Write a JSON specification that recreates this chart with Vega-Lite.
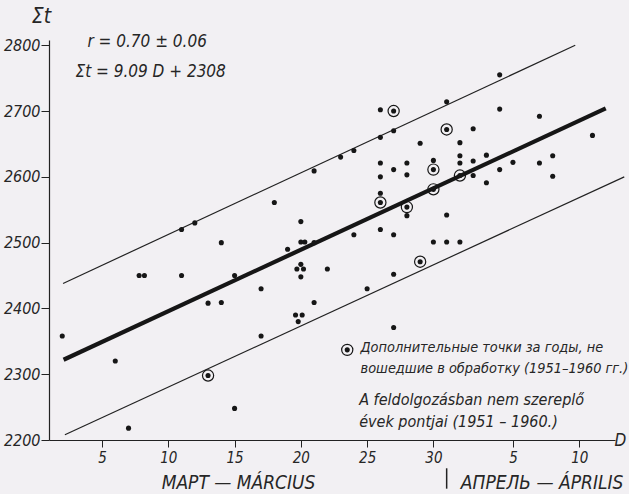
{
  "$schema": "https://vega.github.io/schema/vega-lite/v6.json",
  "width": 566,
  "height": 400,
  "autosize": "none",
  "padding": {"left": 49, "top": 40, "right": 14, "bottom": 54},
  "background": "#f2f0f3",
  "config": {
    "view": {"stroke": null},
    "font": "DejaVu Sans Condensed",
    "text": {"font": "DejaVu Sans Condensed", "fontStyle": "italic", "color": "#262626"}
  },
  "datasets": {
    "points": [
      {"D": 2, "sum_t": 2358}, {"D": 6, "sum_t": 2320}, {"D": 7, "sum_t": 2218},
      {"D": 7.8, "sum_t": 2450}, {"D": 8.2, "sum_t": 2450}, {"D": 11, "sum_t": 2450},
      {"D": 11, "sum_t": 2520}, {"D": 12, "sum_t": 2530}, {"D": 13, "sum_t": 2408},
      {"D": 14, "sum_t": 2500}, {"D": 14, "sum_t": 2409}, {"D": 15, "sum_t": 2450},
      {"D": 15, "sum_t": 2248}, {"D": 17, "sum_t": 2430}, {"D": 17, "sum_t": 2358},
      {"D": 18, "sum_t": 2561}, {"D": 19, "sum_t": 2490}, {"D": 20, "sum_t": 2532},
      {"D": 20, "sum_t": 2501}, {"D": 20.3, "sum_t": 2501}, {"D": 20, "sum_t": 2467},
      {"D": 19.7, "sum_t": 2460}, {"D": 20.2, "sum_t": 2460}, {"D": 20, "sum_t": 2448},
      {"D": 19.6, "sum_t": 2390}, {"D": 20.1, "sum_t": 2390}, {"D": 19.8, "sum_t": 2380},
      {"D": 21, "sum_t": 2609}, {"D": 21, "sum_t": 2500}, {"D": 21, "sum_t": 2409},
      {"D": 22, "sum_t": 2460}, {"D": 23, "sum_t": 2630}, {"D": 24, "sum_t": 2640},
      {"D": 24, "sum_t": 2512}, {"D": 25, "sum_t": 2430}, {"D": 26, "sum_t": 2702},
      {"D": 26, "sum_t": 2660}, {"D": 26, "sum_t": 2621}, {"D": 26, "sum_t": 2600},
      {"D": 26, "sum_t": 2575}, {"D": 26, "sum_t": 2520}, {"D": 27, "sum_t": 2670},
      {"D": 27, "sum_t": 2611}, {"D": 27, "sum_t": 2512}, {"D": 27, "sum_t": 2452},
      {"D": 27, "sum_t": 2371}, {"D": 28, "sum_t": 2621}, {"D": 28, "sum_t": 2603},
      {"D": 28, "sum_t": 2541}, {"D": 29, "sum_t": 2651}, {"D": 30, "sum_t": 2625},
      {"D": 30, "sum_t": 2501}, {"D": 31, "sum_t": 2714}, {"D": 31, "sum_t": 2542},
      {"D": 31, "sum_t": 2501}, {"D": 32, "sum_t": 2652}, {"D": 32, "sum_t": 2632},
      {"D": 32, "sum_t": 2621}, {"D": 32, "sum_t": 2501}, {"D": 33, "sum_t": 2673},
      {"D": 33, "sum_t": 2624}, {"D": 33, "sum_t": 2602}, {"D": 34, "sum_t": 2633},
      {"D": 34, "sum_t": 2591}, {"D": 35, "sum_t": 2755}, {"D": 35, "sum_t": 2703},
      {"D": 35, "sum_t": 2611}, {"D": 36, "sum_t": 2622}, {"D": 38, "sum_t": 2692},
      {"D": 38, "sum_t": 2621}, {"D": 39, "sum_t": 2632}, {"D": 39, "sum_t": 2601},
      {"D": 42, "sum_t": 2663},
      {"D": 13, "sum_t": 2298, "extra": true}, {"D": 26, "sum_t": 2561, "extra": true},
      {"D": 27, "sum_t": 2700, "extra": true}, {"D": 28, "sum_t": 2554, "extra": true},
      {"D": 29, "sum_t": 2471, "extra": true}, {"D": 30, "sum_t": 2611, "extra": true},
      {"D": 30, "sum_t": 2581, "extra": true}, {"D": 31, "sum_t": 2672, "extra": true},
      {"D": 32, "sum_t": 2602, "extra": true},
      {"D": 23.5, "sum_t": 2337, "extra": true, "legend": true}
    ],
    "lines": [
      {"line": "regression", "D": 2.1, "sum_t": 2322},
      {"line": "regression", "D": 43, "sum_t": 2704},
      {"line": "upper", "D": 2.06, "sum_t": 2438},
      {"line": "upper", "D": 40.7, "sum_t": 2800},
      {"line": "lower", "D": 2.2, "sum_t": 2208},
      {"line": "lower", "D": 44.4, "sum_t": 2600}
    ],
    "notes": [
      {"kind": "formula", "D": 3.9, "sum_t": 2805, "text": "r = 0.70 ± 0.06"},
      {"kind": "formula", "D": 3.0, "sum_t": 2759, "text": "Σt = 9.09 D + 2308"},
      {"kind": "legend", "D": 24.5, "sum_t": 2340, "text": "Дополнительные точки за годы, не"},
      {"kind": "legend", "D": 24.5, "sum_t": 2308, "text": "вошедшие в обработку (1951–1960 гг.)"},
      {"kind": "legend2", "D": 24.4, "sum_t": 2261, "text": "A feldolgozásban nem szereplő"},
      {"kind": "legend2", "D": 24.4, "sum_t": 2228, "text": "évek pontjai (1951 – 1960.)"},
      {"kind": "month", "D": 15.3, "sum_t": 2135, "text": "МАРТ — MÁRCIUS"},
      {"kind": "month", "D": 38.2, "sum_t": 2135, "text": "АПРЕЛЬ — ÁPRILIS"}
    ],
    "separator": [
      {"D": 31.0, "sum_t": 2157, "sum_t2": 2126}
    ]
  },
  "encoding": {
    "x": {
      "field": "D", "type": "quantitative",
      "scale": {"domain": [1, 43.7], "nice": false, "zero": false},
      "axis": {
        "values": [5, 10, 15, 20, 25, 30, 36, 41],
        "labelExpr": "datum.value > 31 ? datum.value - 31 : datum.value",
        "grid": false,
        "domainColor": "#222", "domainWidth": 1.2,
        "tickColor": "#222", "tickWidth": 1, "tickSize": 7,
        "labelFont": "DejaVu Sans Condensed", "labelFontStyle": "italic",
        "labelFontSize": 15, "labelColor": "#262626", "labelPadding": 3,
        "labelFlush": false,
        "title": "D", "titleFont": "DejaVu Sans Condensed", "titleFontStyle": "italic",
        "titleFontWeight": "normal", "titleFontSize": 17, "titleColor": "#262626",
        "titleX": 565, "titleY": 0, "titleAlign": "left", "titleBaseline": "middle"
      }
    },
    "y": {
      "field": "sum_t", "type": "quantitative",
      "scale": {"domain": [2200, 2808], "nice": false, "zero": false},
      "axis": {
        "values": [2200, 2300, 2400, 2500, 2600, 2700, 2800],
        "format": "d",
        "grid": false,
        "domainColor": "#222", "domainWidth": 1.2,
        "tickColor": "#222", "tickWidth": 1, "tickSize": 8,
        "labelFont": "DejaVu Sans Condensed", "labelFontStyle": "italic",
        "labelFontSize": 16, "labelColor": "#262626", "labelPadding": 1,
        "title": "Σt", "titleFont": "DejaVu Sans Condensed", "titleFontStyle": "italic",
        "titleFontWeight": "normal", "titleFontSize": 21, "titleColor": "#262626",
        "titleAngle": 0, "titleX": -8, "titleY": -24, "titleAlign": "center", "titleBaseline": "middle"
      }
    }
  },
  "layer": [
    {
      "data": {"name": "lines"},
      "transform": [{"filter": "datum.line !== 'regression'"}],
      "mark": {"type": "line", "color": "#222", "strokeWidth": 1.2},
      "encoding": {"detail": {"field": "line"}}
    },
    {
      "data": {"name": "lines"},
      "transform": [{"filter": "datum.line === 'regression'"}],
      "mark": {"type": "line", "color": "#161616", "strokeWidth": 4.2},
      "encoding": {}
    },
    {
      "data": {"name": "points"},
      "mark": {"type": "point", "shape": "circle", "filled": true, "color": "#161616", "opacity": 1, "size": 26},
      "encoding": {}
    },
    {
      "data": {"name": "points"},
      "transform": [{"filter": "datum.extra === true"}],
      "mark": {"type": "point", "shape": "circle", "filled": false, "color": "#161616", "opacity": 1, "size": 125, "strokeWidth": 1.2},
      "encoding": {}
    },
    {
      "data": {"name": "notes"},
      "transform": [{"filter": "datum.kind === 'formula'"}],
      "mark": {"type": "text", "align": "left", "baseline": "middle", "fontSize": 17},
      "encoding": {"text": {"field": "text"}}
    },
    {
      "data": {"name": "notes"},
      "transform": [{"filter": "datum.kind === 'legend'"}],
      "mark": {"type": "text", "align": "left", "baseline": "middle", "fontSize": 14.4},
      "encoding": {"text": {"field": "text"}}
    },
    {
      "data": {"name": "notes"},
      "transform": [{"filter": "datum.kind === 'legend2'"}],
      "mark": {"type": "text", "align": "left", "baseline": "middle", "fontSize": 16},
      "encoding": {"text": {"field": "text"}}
    },
    {
      "data": {"name": "notes"},
      "transform": [{"filter": "datum.kind === 'month'"}],
      "mark": {"type": "text", "align": "center", "baseline": "middle", "fontSize": 19},
      "encoding": {"text": {"field": "text"}}
    },
    {
      "data": {"name": "separator"},
      "mark": {"type": "rule", "color": "#222", "strokeWidth": 1.5},
      "encoding": {"y2": {"field": "sum_t2"}}
    }
  ]
}
